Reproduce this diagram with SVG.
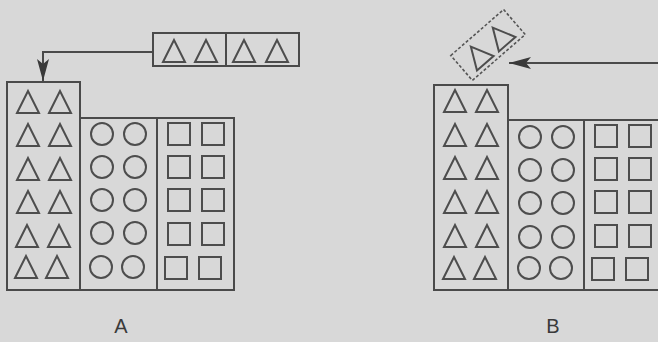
<svg xmlns="http://www.w3.org/2000/svg" width="658" height="342" viewBox="0 0 658 342">
<style>
.box{fill:none;stroke:#4a4a4a;stroke-width:2}
.sh{fill:none;stroke:#4d4d4d;stroke-width:2}
.dash{fill:none;stroke:#555;stroke-width:1.6;stroke-dasharray:3 2}
.conn{fill:none;stroke:#4a4a4a;stroke-width:2}
.lbl{font-family:"Liberation Sans",Arial,sans-serif;font-size:20px;fill:#3a3a3a;text-anchor:middle}
</style>
<defs>
<path id="tri" d="M-11,11 L0,-11 L11,11 Z" class="sh"/>
<circle id="cir" r="11" class="sh"/>
<rect id="sq" x="-11" y="-11" width="22" height="22" class="sh"/>
<marker id="ah" markerUnits="userSpaceOnUse" viewBox="0 0 22 12" refX="22" refY="6" markerWidth="22" markerHeight="12" orient="auto">
<path d="M0,0 L22,6 L0,12 L5,6 Z" fill="#3a3a3a"/>
</marker>
</defs>
<rect width="658" height="342" fill="#d8d8d8"/>

<g id="A-triangles">
<rect class="box" x="7" y="82" width="73" height="208"/>
<use href="#tri" x="28" y="102"/><use href="#tri" x="60" y="102"/>
<use href="#tri" x="28" y="135"/><use href="#tri" x="60" y="135"/>
<use href="#tri" x="28" y="169"/><use href="#tri" x="60" y="169"/>
<use href="#tri" x="28" y="202"/><use href="#tri" x="60" y="202"/>
<use href="#tri" x="27" y="236"/><use href="#tri" x="59" y="236"/>
<use href="#tri" x="26" y="267"/><use href="#tri" x="57" y="267"/>
</g>
<g id="A-circles">
<rect class="box" x="80" y="118" width="77" height="172"/>
<use href="#cir" x="102" y="134"/><use href="#cir" x="135" y="134"/>
<use href="#cir" x="102" y="167"/><use href="#cir" x="135" y="167"/>
<use href="#cir" x="102" y="200"/><use href="#cir" x="135" y="200"/>
<use href="#cir" x="102" y="233"/><use href="#cir" x="135" y="233"/>
<use href="#cir" x="101" y="267"/><use href="#cir" x="133" y="267"/>
</g>
<g id="A-squares">
<rect class="box" x="157" y="118" width="77" height="172"/>
<use href="#sq" x="179" y="134"/><use href="#sq" x="213" y="134"/>
<use href="#sq" x="179" y="167"/><use href="#sq" x="213" y="167"/>
<use href="#sq" x="179" y="200"/><use href="#sq" x="213" y="200"/>
<use href="#sq" x="179" y="234"/><use href="#sq" x="213" y="234"/>
<use href="#sq" x="176" y="268"/><use href="#sq" x="210" y="268"/>
</g>
<g id="A-incoming">
<rect class="box" x="153" y="33" width="146" height="33"/>
<line class="box" x1="226" y1="33" x2="226" y2="66"/>
<use href="#tri" x="174" y="51"/><use href="#tri" x="206" y="51"/>
<use href="#tri" x="244" y="51"/><use href="#tri" x="277" y="51"/>
</g>
<text id="label-A" class="lbl" x="121" y="333">A</text>

<g id="B-triangles">
<rect class="box" x="434" y="85" width="74" height="205"/>
<use href="#tri" x="455" y="101"/><use href="#tri" x="487" y="101"/>
<use href="#tri" x="455" y="135"/><use href="#tri" x="487" y="135"/>
<use href="#tri" x="455" y="168"/><use href="#tri" x="487" y="168"/>
<use href="#tri" x="455" y="202"/><use href="#tri" x="487" y="202"/>
<use href="#tri" x="455" y="236"/><use href="#tri" x="487" y="236"/>
<use href="#tri" x="454" y="268"/><use href="#tri" x="485" y="268"/>
</g>
<g id="B-circles">
<rect class="box" x="508" y="120" width="76" height="170"/>
<use href="#cir" x="530" y="137"/><use href="#cir" x="563" y="137"/>
<use href="#cir" x="530" y="170"/><use href="#cir" x="563" y="170"/>
<use href="#cir" x="530" y="203"/><use href="#cir" x="563" y="203"/>
<use href="#cir" x="530" y="237"/><use href="#cir" x="563" y="237"/>
<use href="#cir" x="529" y="268"/><use href="#cir" x="561" y="268"/>
</g>
<g id="B-squares">
<rect class="box" x="584" y="120" width="84" height="170"/>
<use href="#sq" x="606" y="136"/><use href="#sq" x="640" y="136"/>
<use href="#sq" x="606" y="169"/><use href="#sq" x="640" y="169"/>
<use href="#sq" x="606" y="202"/><use href="#sq" x="640" y="202"/>
<use href="#sq" x="606" y="236"/><use href="#sq" x="640" y="236"/>
<use href="#sq" x="603" y="269"/><use href="#sq" x="637" y="269"/>
</g>
<g id="B-removed" transform="translate(488,45) rotate(-41)">
<rect class="dash" x="-35" y="-16.5" width="70" height="33"/>
<use href="#tri" x="-14" y="1"/>
<use href="#tri" x="15" y="1"/>
</g>
<text id="label-B" class="lbl" x="553" y="333">B</text>

<g id="connectors">
<path class="conn" d="M153,52 H43 V81" marker-end="url(#ah)"/>
<path class="conn" d="M660,63 H509" marker-end="url(#ah)"/>
</g>
</svg>
